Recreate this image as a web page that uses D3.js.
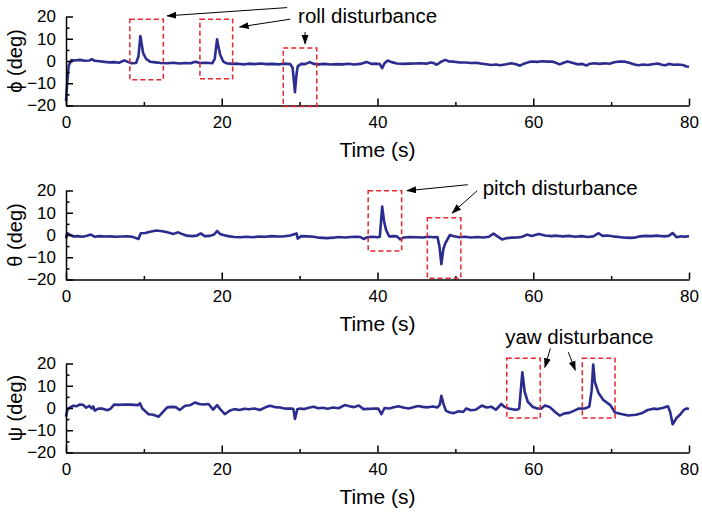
<!DOCTYPE html>
<html>
<head>
<meta charset="utf-8">
<script src="https://cdn.jsdelivr.net/npm/d3@7"></script>
<style>
  body { margin: 0; background: #fff; }
  svg { display: block; font-family: "Liberation Sans", Arial, sans-serif; }
</style>
</head>
<body>
<div id="chart"></div>
<script>
// time (s), angle (deg)
const rollData = [[0,-18],[0.15,-10],[0.35,-2],[0.7,0.4],[1.2,0.2],[1.8,0.5],[2.4,0.1],[3.0,0.2],[3.3,0.8],[3.7,0.1],[4.3,-0.1],[5.0,-0.4],[5.6,-0.6],[6.2,-0.5],[6.8,-0.8],[7.5,0.3],[8.0,-0.5],[8.4,-1.0],[9.0,-0.9],[9.3,2],[9.55,11.2],[9.75,7],[9.9,3.5],[10.3,0.9],[10.8,-0.3],[11.5,-0.6],[12.2,-0.9],[13.0,-1.0],[13.8,-0.8],[14.5,-1.1],[15.3,-0.9],[16.0,-1.0],[16.6,-0.3],[17.2,-0.9],[18.0,-0.8],[18.8,-1.0],[19.1,1],[19.4,9.8],[19.6,6],[19.8,2.8],[20.2,-0.3],[20.6,-1.0],[21.3,-1.3],[22,-1.2],[22.8,-1.5],[23.5,-1.2],[24.2,-1.4],[25.0,-1.1],[25.7,-1.4],[26.5,-1.3],[27.3,-1.5],[28.0,-1.2],[28.8,-1.4],[29.1,-3],[29.4,-14],[29.6,-6],[29.75,-2.4],[30.2,-1.3],[30.7,-1.4],[31.3,-0.5],[31.8,-1.3],[32.5,-1.5],[33.2,-1.3],[34,-1.6],[34.8,-1.4],[35.6,-1.5],[36.3,-1.2],[37.0,-1.6],[37.8,-1.3],[38.6,-0.4],[39.2,-1.3],[39.9,-1.2],[40.3,-1.4],[40.6,-3.2],[40.9,-1.0],[41.3,0.2],[41.8,-0.5],[42.5,-1.1],[43.3,-1.3],[44.0,-1.2],[44.8,-1.1],[45.5,-1.0],[46.3,-1.2],[46.8,-0.7],[47.2,-0.9],[47.6,-1.7],[48.2,-0.3],[48.7,0.5],[49.2,-0.2],[49.8,-0.3],[50.5,-0.6],[51.3,-0.7],[52,-0.9],[52.7,-0.8],[53.4,-1.2],[54.0,-1.5],[54.6,-1.8],[55.2,-1.6],[55.8,-1.9],[56.5,-1.5],[57.2,-1.0],[57.8,-1.5],[58.3,-2.1],[58.8,-1.2],[59.4,-0.5],[59.8,-0.2],[60.5,-0.4],[61.2,-0.1],[61.8,-0.3],[62.4,-0.2],[62.9,-0.8],[63.4,-1.5],[63.9,-0.8],[64.4,-0.2],[65.0,-0.8],[65.7,-1.5],[66.3,-1.3],[66.8,-2.0],[67.3,-1.2],[67.9,-1.0],[68.5,-1.3],[69.2,-1.0],[69.8,-1.2],[70.4,-0.6],[71.1,-0.2],[71.8,-0.3],[72.4,-0.9],[73.0,-1.6],[73.5,-1.9],[74.1,-1.6],[74.7,-1.8],[75.3,-1.5],[76.0,-1.1],[76.5,-1.7],[77.0,-1.9],[77.4,-1.3],[78.0,-1.7],[78.6,-1.6],[79.2,-1.8],[79.7,-2.5],[80,-2.6]];

const pitchData = [[0,-1.5],[0.15,0.8],[0.5,0.2],[0.9,-0.6],[1.5,-0.5],[2.1,-0.8],[2.7,-0.3],[3.2,0.2],[3.7,-0.8],[4.3,-0.5],[5.0,-0.7],[5.7,-0.6],[6.4,-0.8],[7.1,-0.7],[7.8,-0.6],[8.5,-0.8],[9.0,-1.4],[9.3,-1.8],[9.6,0.8],[10.2,0.9],[10.8,1.5],[11.6,2.0],[12.4,1.7],[13.0,1.2],[13.8,0.5],[14.4,1.2],[15.0,0.3],[15.5,-0.3],[16.2,-0.5],[16.8,-0.3],[17.3,0.7],[17.8,-0.5],[18.5,-0.4],[19.0,0.2],[19.4,1.8],[19.8,0.4],[20.2,0],[20.8,-0.5],[21.6,-0.9],[22.4,-1.0],[23.2,-0.8],[24.0,-1.0],[24.8,-0.7],[25.6,-0.8],[26.4,-0.5],[27.2,-0.7],[28.0,-0.6],[28.8,-0.2],[29.6,0.7],[29.75,-1.6],[30.2,-0.5],[31.0,-0.6],[31.8,-0.8],[32.5,-1.2],[33.5,-1.4],[34.3,-1.2],[35.0,-0.9],[35.8,-1.1],[36.6,-0.9],[37.3,-0.8],[37.8,-0.9],[38.2,-1.8],[38.7,-1.0],[39.3,-0.8],[40.0,-1.0],[40.3,-0.8],[40.6,12.8],[40.85,6],[41.1,2.3],[41.5,-0.7],[42.0,-0.5],[42.5,-0.6],[42.9,-2.0],[43.4,-1.1],[44.2,-0.9],[45.0,-1.0],[45.8,-1.1],[46.5,-0.8],[47.2,-1.0],[47.7,-0.9],[47.95,-5],[48.2,-13.1],[48.45,-6.5],[48.7,-3.8],[49.3,0],[49.8,-0.6],[50.5,-1.0],[51.2,-0.8],[52,-1.1],[52.8,-0.9],[53.6,-1.1],[54.3,-0.8],[54.9,0.6],[55.4,-0.6],[56.0,-2.0],[56.6,-1.4],[57.3,-1.2],[58.0,-1.1],[58.6,-0.8],[59.2,0.2],[59.8,-0.4],[60.7,0.5],[61.5,-0.2],[62.3,-0.5],[63.0,-0.3],[63.8,-0.6],[64.6,-0.4],[65.4,-0.8],[66.2,-0.5],[67.0,-0.9],[67.7,-0.6],[68.4,0.8],[68.9,-0.4],[69.5,-0.2],[70.2,-0.6],[71.0,-0.9],[71.8,-1.2],[72.5,-1.3],[73.0,-1.2],[73.7,-0.6],[74.4,-0.4],[75.2,-0.5],[76.0,-0.3],[76.8,-0.6],[77.4,-0.4],[77.9,0.9],[78.4,-1.0],[79.0,-0.6],[79.5,-0.8],[80,-0.5]];

const yawData = [[0,-3.9],[0.2,-0.5],[0.6,0.4],[0.94,1.0],[1.4,0.8],[1.8,1.6],[2.2,1.4],[2.6,0.1],[3.0,1.0],[3.3,-0.2],[3.5,0.7],[3.7,-1.2],[4.2,-0.2],[4.7,-0.3],[5.3,-1.0],[5.7,-0.4],[6.2,1.6],[6.8,1.4],[7.5,1.6],[8.2,1.5],[8.8,1.4],[9.2,1.2],[9.5,2.1],[9.8,-0.2],[10.2,-1.5],[10.6,-2.8],[11.2,-3.0],[11.9,-3.9],[12.4,-2.0],[13.0,0.3],[13.6,0.5],[14.1,0.4],[14.6,-0.9],[15.3,1.0],[15.9,1.2],[16.6,2.5],[17.1,1.8],[17.6,1.6],[18.3,1.8],[18.9,-0.7],[19.4,1.3],[19.8,-0.5],[20.4,-2.8],[21.0,-1.2],[21.6,-0.5],[22.3,-0.9],[22.9,-0.3],[23.5,-0.6],[24.2,-0.2],[24.9,-0.9],[25.6,0.3],[26.2,1.0],[26.8,0.4],[27.5,0.2],[28.2,-0.3],[29.0,-0.2],[29.2,-0.5],[29.4,-4.9],[29.7,-0.6],[30.1,-0.2],[30.6,-0.5],[31.3,0.2],[31.8,0.6],[32.4,-0.1],[33.0,0.1],[33.6,-0.3],[34.3,0.2],[35.0,-0.1],[35.8,1.3],[36.4,0.8],[37.0,0.4],[37.6,1.1],[38.2,-0.5],[38.8,-0.4],[39.4,-0.3],[39.7,-0.2],[40.1,-0.3],[40.5,-2.8],[40.9,0],[41.5,-0.2],[42.1,0.3],[42.7,0.8],[43.3,0.2],[44.0,-0.2],[44.6,0.3],[45.2,0.9],[45.8,0.5],[46.5,0.3],[47.1,0.7],[47.7,0.2],[48.0,1.5],[48.2,5.5],[48.5,1.5],[48.8,-1.3],[49.3,-2.0],[49.8,-2.3],[50.4,-1.5],[51.0,-1.8],[51.4,-0.2],[52,-1.0],[52.6,-0.8],[53.4,1.1],[54.0,0.2],[54.6,0.6],[55.2,-0.8],[55.9,1.8],[56.3,0.5],[56.8,-0.2],[57.4,-0.6],[57.9,-0.8],[58.2,-0.2],[58.6,16],[58.9,7.3],[59.3,2.8],[59.9,0.6],[60.5,-0.2],[61.0,-0.3],[61.5,1.1],[62.1,0.5],[62.8,-1.8],[63.4,-3.4],[64.0,-2.4],[64.6,-2.2],[65.2,-1.3],[65.8,-0.3],[66.6,-0.2],[67.2,0.6],[67.5,8],[67.7,19.5],[67.9,11.8],[68.4,6.6],[69.0,3.6],[69.9,1.3],[70.5,-2.0],[71.3,-2.7],[72.2,-3.4],[73.2,-3.0],[73.9,-2.4],[74.7,-0.9],[75.4,-0.3],[76.0,-0.5],[76.7,0.1],[77.3,0.8],[77.6,-2],[77.9,-7.3],[78.4,-4.5],[78.9,-2.8],[79.3,-1.0],[79.7,-0.2],[80,-0.5]];

const xTicks = [0, 20, 40, 60, 80];
const xMinorTicks = [10, 30, 50, 70];
const yTicks = [-20, -10, 0, 10, 20];
const yMinorTicks = [-15, -5, 5, 15];

// red dashed boxes: [t0, t1, vTop, vBottom]
const rollBoxes = [[8.2, 12.5, 18.8, -8.4], [17.2, 21.4, 18.8, -8.0], [27.9, 32.2, 5.8, -20.4]];
const pitchBoxes = [[38.8, 43.1, 19.9, -7.2], [46.4, 50.7, 7.7, -19.4]];
const yawBoxes = [[56.6, 60.9, 22.4, -4.5], [66.3, 70.5, 22.4, -4.5]];

// annotation arrows in data units: [t0, v0, t1, v1]
const rollArrows = [[28.4, 24.0, 13.0, 20.3], [28.8, 18.8, 22.3, 15.3], [30.7, 13.0, 30.7, 7.7]];
const pitchArrows = [[51.6, 22.6, 43.8, 19.9], [52.8, 19.9, 49.6, 9.9]];
const yawArrows = [[62.2, 26.8, 61.5, 18.3], [64.5, 25.1, 65.4, 17.0]];

const panels = [
  { label: "ϕ (deg)", data: rollData, boxes: rollBoxes, arrows: rollArrows, note: "roll disturbance", noteAt: [29.8, 17.1], top: 16.5 },
  { label: "θ (deg)", data: pitchData, boxes: pitchBoxes, arrows: pitchArrows, note: "pitch disturbance", noteAt: [53.5, 18.1], top: 190.5 },
  { label: "ψ (deg)", data: yawData, boxes: yawBoxes, arrows: yawArrows, note: "yaw disturbance", noteAt: [56.4, 28.6], top: 363.5 }
];

const width = 702, height = 517;
const left = 66, right = 689, panelH = 89;

const svg = d3.select("#chart").append("svg")
  .attr("width", width)
  .attr("height", height);

svg.append("defs").append("marker")
  .attr("id", "head")
  .attr("viewBox", "0 0 10 10")
  .attr("refX", 9).attr("refY", 5)
  .attr("markerWidth", 10).attr("markerHeight", 10)
  .attr("markerUnits", "userSpaceOnUse")
  .attr("orient", "auto")
  .append("path")
  .attr("d", "M0,1.5 L10,5 L0,8.5 Z")
  .attr("fill", "#000");

const x = d3.scaleLinear().domain([0, 80]).range([left, right]);

panels.forEach(p => {
  const y = d3.scaleLinear().domain([-20, 20]).range([p.top + panelH, p.top]);
  const g = svg.append("g");

  // data line
  g.append("path")
    .datum(p.data)
    .attr("fill", "none")
    .attr("stroke", "#2b2d8e")
    .attr("stroke-width", 2.6)
    .attr("stroke-linejoin", "round")
    .attr("d", d3.line().x(d => x(d[0])).y(d => y(d[1])));

  // x axis (ticks inward)
  const xAxis = g.append("g")
    .attr("transform", `translate(0,${p.top + panelH})`)
    .call(d3.axisBottom(x).tickValues(xTicks).tickSizeInner(-7).tickSizeOuter(0).tickPadding(10));
  g.append("g")
    .attr("transform", `translate(0,${p.top + panelH})`)
    .call(d3.axisBottom(x).tickValues(xMinorTicks).tickSizeInner(-3.5).tickSizeOuter(0).tickFormat(""))
    .call(a => a.select(".domain").remove());

  // y axis (ticks inward)
  const yAxis = g.append("g")
    .attr("transform", `translate(${left},0)`)
    .call(d3.axisLeft(y).tickValues(yTicks).tickSizeInner(-7).tickSizeOuter(0).tickPadding(10));
  g.append("g")
    .attr("transform", `translate(${left},0)`)
    .call(d3.axisLeft(y).tickValues(yMinorTicks).tickSizeInner(-3.5).tickSizeOuter(0).tickFormat(""))
    .call(a => a.select(".domain").remove());

  g.selectAll(".domain, .tick line").attr("stroke", "#000").attr("stroke-width", 1.5);
  [xAxis, yAxis].forEach(a => a.selectAll("text")
    .attr("font-size", 17)
    .attr("font-family", "Liberation Sans, Arial, sans-serif")
    .attr("fill", "#000"));

  // axis titles
  g.append("text")
    .attr("x", (left + right) / 2)
    .attr("y", p.top + panelH + 51)
    .attr("text-anchor", "middle")
    .attr("font-size", 21)
    .text("Time (s)");

  g.append("text")
    .attr("transform", `translate(22,${p.top + panelH / 2}) rotate(-90)`)
    .attr("text-anchor", "middle")
    .attr("font-size", 20)
    .text(p.label);

  // disturbance boxes
  g.selectAll("rect.box")
    .data(p.boxes)
    .join("rect")
    .attr("class", "box")
    .attr("x", d => x(d[0]))
    .attr("y", d => y(d[2]))
    .attr("width", d => x(d[1]) - x(d[0]))
    .attr("height", d => y(d[3]) - y(d[2]))
    .attr("fill", "none")
    .attr("stroke", "#e8262d")
    .attr("stroke-width", 1.5)
    .attr("stroke-dasharray", "5,3");

  // arrows
  g.selectAll("line.arrow")
    .data(p.arrows)
    .join("line")
    .attr("class", "arrow")
    .attr("x1", d => x(d[0]))
    .attr("y1", d => y(d[1]))
    .attr("x2", d => x(d[2]))
    .attr("y2", d => y(d[3]))
    .attr("stroke", "#000")
    .attr("stroke-width", 1)
    .attr("marker-end", "url(#head)");

  g.append("text")
    .attr("x", x(p.noteAt[0]))
    .attr("y", y(p.noteAt[1]))
    .attr("font-size", 20.5)
    .text(p.note);
});
</script>
</body>
</html>
